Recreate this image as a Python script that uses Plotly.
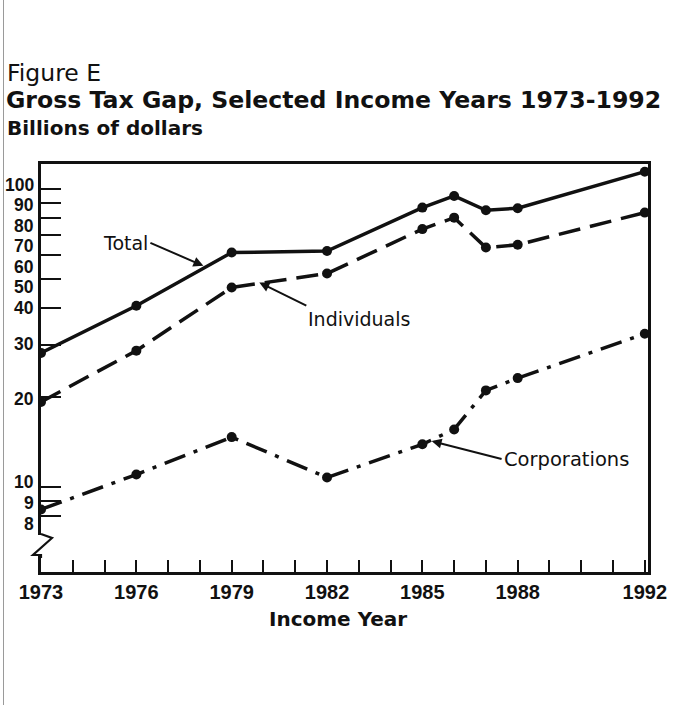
import math
import plotly.graph_objects as go

# ---- data ----
years = [1973, 1976, 1979, 1982, 1985, 1986, 1987, 1988, 1992]
total = [28.2, 40.6, 61.3, 62.0, 86.8, 95.0, 85.0, 86.4, 114.6]
individuals = [19.3, 28.7, 46.8, 52.1, 73.5, 80.3, 63.7, 65.1, 83.5]
corporations = [8.4, 11.0, 14.7, 10.75, 13.9, 15.6, 21.1, 23.2, 32.7]

x_label_years = [1973, 1976, 1979, 1982, 1985, 1988, 1992]
x_long_ticks = [1975, 1980, 1985, 1990]
y_tick_vals = [8, 9, 10, 20, 30, 40, 50, 60, 70, 80, 90, 100]

# small vertical nudges (px) of the hand-set y labels in the original
y_label_nudge = {100: 4.8, 90: -2, 80: -7.4, 70: -10.6, 60: -11.2, 50: -8,
                 40: 0, 30: 1, 20: -2, 10: 5, 9: -2.5, 8: -8.3}

# ---- geometry ----
W, H = 693, 705
L, R, T, B = 41, 45, 164, 133
PW, PH = W - L - R, H - T - B


def px(x):
    return (x - L) / PW


def py(y):
    return (H - B - y) / PH


SANS = "Liberation Sans, Arial, Helvetica, sans-serif"
WIDE = "DejaVu Sans, Verdana, sans-serif"
BLACK = "#111111"

fig = go.Figure()

fig.add_trace(go.Scatter(
    x=years, y=total, mode="lines+markers", name="Total",
    line=dict(color=BLACK, width=3.5),
    marker=dict(color=BLACK, size=10)))
fig.add_trace(go.Scatter(
    x=years, y=individuals, mode="lines+markers", name="Individuals",
    line=dict(color=BLACK, width=3.5, dash="22px,10px"),
    marker=dict(color=BLACK, size=10)))
fig.add_trace(go.Scatter(
    x=years, y=corporations, mode="lines+markers", name="Corporations",
    line=dict(color=BLACK, width=3.5, dash="22px,9px,4px,9px"),
    marker=dict(color=BLACK, size=10)))

fig.update_layout(
    width=W, height=H,
    margin=dict(l=L, r=R, t=T, b=B, pad=0),
    paper_bgcolor="white", plot_bgcolor="white",
    showlegend=False,
    font=dict(family=SANS, color=BLACK),
    xaxis=dict(
        range=[1973, 1992.1], showgrid=False, zeroline=False, automargin=False,
        showline=True, linecolor=BLACK, linewidth=2.5, mirror=True,
        tickmode="array", tickvals=x_label_years,
        ticktext=[str(v) for v in x_label_years],
        ticks="inside", ticklen=12, tickwidth=2, tickcolor=BLACK,
        tickfont=dict(size=20, family=SANS, weight="bold", color=BLACK),
        ticklabelstandoff=0,
        minor=dict(ticks="inside", dtick=1, tick0=1973, ticklen=12,
                   tickwidth=2, tickcolor=BLACK, showgrid=False),
    ),
    xaxis2=dict(
        range=[1973, 1992.1], overlaying="x", anchor="y", side="bottom",
        showgrid=False, zeroline=False, showline=False, automargin=False,
        tickmode="array", tickvals=x_long_ticks, showticklabels=False,
        ticks="inside", ticklen=24, tickwidth=2, tickcolor=BLACK,
    ),
    yaxis=dict(
        type="log", range=[0.714, 2.085], showgrid=False, zeroline=False,
        automargin=False,
        showline=True, linecolor=BLACK, linewidth=2.5, mirror=True,
        tickmode="array", tickvals=y_tick_vals, showticklabels=False,
        ticks="inside", ticklen=20, tickwidth=2, tickcolor=BLACK,
    ),
)

# y tick labels (set beside their ticks, nudged as in the original)
for v in y_tick_vals:
    fig.add_annotation(text=f"<b>{v}</b>", xref="paper", yref="y",
                       x=px(36), y=math.log10(v), yshift=y_label_nudge[v],
                       xanchor="right", yanchor="middle", showarrow=False,
                       font=dict(size=17.5, family=SANS, color=BLACK))

annos = [
    dict(text="Figure E", x=px(5), y=py(73), font=dict(size=23.5, family=WIDE)),
    dict(text="<b>Gross Tax Gap, Selected Income Years 1973-1992</b>",
         x=px(4), y=py(100), font=dict(size=23.6, family=WIDE)),
    dict(text="<b>Billions of dollars</b>", x=px(5), y=py(128),
         font=dict(size=20, family=WIDE)),
]
for a in annos:
    a.update(xref="paper", yref="paper", showarrow=False,
             xanchor="left", yanchor="middle")
    a["font"].update(color=BLACK)
    fig.add_annotation(**a)
fig.add_annotation(text="<b>Income Year</b>", xref="paper", yref="paper",
                   x=px(338), y=py(619), xanchor="center", yanchor="middle",
                   showarrow=False, font=dict(size=20, family=WIDE, color=BLACK))

arrow_common = dict(xref="x", yref="y", showarrow=True, arrowhead=2,
                    arrowsize=1, arrowwidth=2, arrowcolor=BLACK,
                    font=dict(size=19, family=WIDE, color=BLACK))
fig.add_annotation(text="Total", x=1978.11, y=math.log10(55.3), ax=-53, ay=-23,
                   xanchor="right", yanchor="middle", **arrow_common)
fig.add_annotation(text="Individuals", x=1979.87, y=math.log10(48.6), ax=47, ay=23,
                   xanchor="left", yanchor="top", **arrow_common)
fig.add_annotation(text="Corporations", x=1985.29, y=math.log10(14.26), ax=70, ay=18,
                   xanchor="left", yanchor="middle",
                   **{**arrow_common, "font": dict(size=19.5, family=WIDE, color=BLACK)})

# axis break on the y axis
fig.add_shape(type="rect", xref="paper", yref="paper",
              x0=px(37), x1=px(45), y0=py(556), y1=py(535),
              fillcolor="white", line=dict(width=0), layer="above")
fig.add_shape(type="path", xref="paper", yref="paper",
              path=f"M {px(41)} {py(534)} L {px(52)} {py(538)} L {px(33)} {py(555)} L {px(41)} {py(555)} L {px(41)} {py(558)}",
              line=dict(color=BLACK, width=2.2), layer="above")
# faint page edge from the scan
fig.add_shape(type="line", xref="paper", yref="paper",
              x0=px(3.5), x1=px(3.5), y0=py(0), y1=py(705),
              line=dict(color="#9a9a9a", width=1), layer="above")

fig.write_html("out.html", config={"displayModeBar": False},
               post_script="document.body.style.margin='0';document.body.style.overflow='hidden';")
